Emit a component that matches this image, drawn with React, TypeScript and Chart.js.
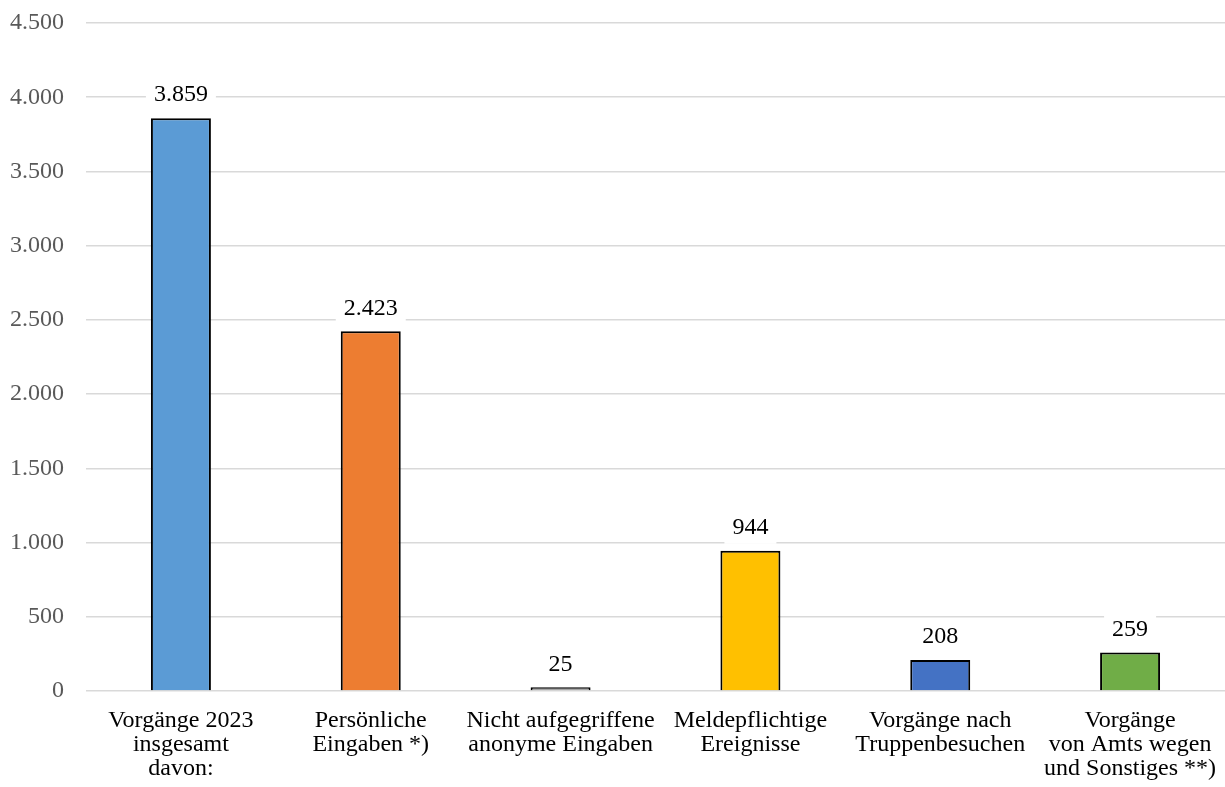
import React, { useEffect, useRef } from "react";
import { Chart, registerables } from "chart.js";

Chart.register(...registerables);

const categories: string[][] = [
  ["Vorgänge 2023", "insgesamt", "davon:"],
  ["Persönliche", "Eingaben *)"],
  ["Nicht aufgegriffene", "anonyme Eingaben"],
  ["Meldepflichtige", "Ereignisse"],
  ["Vorgänge nach", "Truppenbesuchen"],
  ["Vorgänge", "von Amts wegen", "und Sonstiges **)"],
];
const values: number[] = [3859, 2423, 25, 944, 208, 259];
const barColors: string[] = ["#5B9BD5", "#ED7D31", "#A5A5A5", "#FFC000", "#4472C4", "#70AD47"];
const yMin = 0;
const yMax = 4500;
const yStep = 500;

const FONT = "'Liberation Serif', 'Times New Roman', serif";

function fmt(v: number): string {
  return String(Math.round(v)).replace(/\B(?=(\d{3})+(?!\d))/g, ".");
}

const labelPlugin = {
  id: "barLabels",
  afterDatasetsDraw(chart: any) {
    const ctx = chart.ctx;
    const meta = chart.getDatasetMeta(0);
    ctx.save();
    ctx.font = `24px ${FONT}`;
    ctx.textAlign = "center";
    ctx.textBaseline = "middle";
    meta.data.forEach((el: any, i: number) => {
      const txt = fmt(values[i]);
      const w = ctx.measureText(txt).width;
      const cy = el.y - 24;
      ctx.fillStyle = "#FFFFFF";
      ctx.fillRect(el.x - w / 2 - 8, cy - 17, w + 16, 34);
      ctx.fillStyle = "#000000";
      ctx.fillText(txt, el.x, cy + 1);
    });
    ctx.restore();
  },
};

export default function App() {
  const ref = useRef<HTMLCanvasElement | null>(null);
  useEffect(() => {
    if (!ref.current) return;
    const chart = new Chart(ref.current, {
      type: "bar",
      data: {
        labels: categories,
        datasets: [
          {
            data: values,
            backgroundColor: barColors,
            borderColor: "#000000",
            borderWidth: 2,
            barPercentage: 0.316,
            categoryPercentage: 1,
          },
        ],
      },
      options: {
        animation: false,
        responsive: false,
        maintainAspectRatio: false,
        layout: { padding: { top: 23, right: 0, left: 0, bottom: 0 } },
        plugins: {
          legend: { display: false },
          tooltip: { enabled: false },
        },
        scales: {
          x: {
            grid: { display: false, drawTicks: false },
            border: { display: false },
            ticks: {
              color: "#000000",
              font: { family: FONT, size: 24, lineHeight: 1.0 },
              padding: 18,
              maxRotation: 0,
              autoSkip: false,
            },
            afterFit: (s: any) => {
              s.height = 96;
              s.paddingLeft = 0;
              s.paddingRight = 0;
            },
          },
          y: {
            min: yMin,
            max: yMax,
            grid: { color: "#D9D9D9", lineWidth: 1.5, drawTicks: false },
            border: { display: false },
            ticks: {
              stepSize: yStep,
              color: "#595959",
              font: { family: FONT, size: 24 },
              padding: 22,
              callback: (v: any) => fmt(Number(v)),
            },
            afterFit: (s: any) => {
              s.width = 86;
              s.paddingTop = 0;
              s.paddingBottom = 0;
            },
          },
        },
      },
      plugins: [labelPlugin],
    });
    return () => chart.destroy();
  }, []);
  return (
    <div style={{ position: "fixed", left: 0, top: 0, width: 1225, height: 787, background: "#fff" }}>
      <canvas ref={ref} width={1225} height={787} style={{ width: 1225, height: 787 }} />
    </div>
  );
}
